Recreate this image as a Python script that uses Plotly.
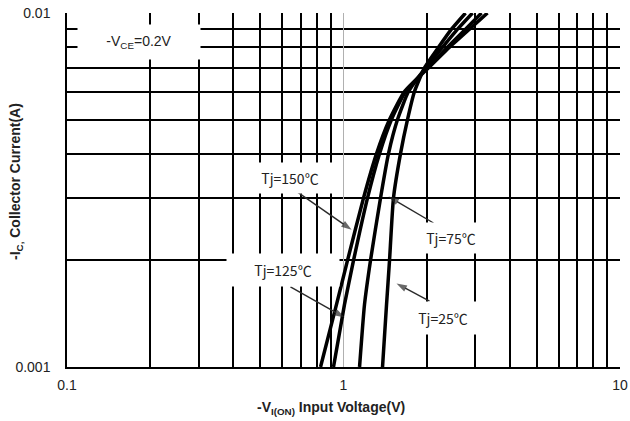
import math
import plotly.graph_objects as go

# Collector current levels (A) at which each curve is sampled
current_a = [0.001, 0.0015, 0.002, 0.003, 0.004, 0.005, 0.006, 0.007, 0.008, 0.009, 0.01]

# Input on-voltage (V) for each junction temperature
vin_25c = [1.384, 1.431, 1.467, 1.516, 1.607, 1.704, 1.806, 1.963, 2.206, 2.458, 2.762]
vin_75c = [1.143, 1.191, 1.252, 1.361, 1.454, 1.568, 1.718, 1.980, 2.280, 2.585, 2.928]
vin_125c = [0.920, 1.008, 1.087, 1.221, 1.349, 1.491, 1.676, 2.013, 2.377, 2.762, 3.156]
vin_150c = [0.826, 0.943, 1.034, 1.181, 1.316, 1.467, 1.662, 2.030, 2.417, 2.855, 3.317]

series_names = ["Tj=25℃", "Tj=75℃", "Tj=125℃", "Tj=150℃"]

x_major = [0.1, 1, 10]
x_major_text = ["0.1", "1", "10"]
x_minor = [0.2, 0.3, 0.4, 0.5, 0.6, 0.7, 0.8, 0.9, 2, 3, 4, 5, 6, 7, 8, 9]
y_major = [0.001, 0.01]
y_major_text = ["0.001", "0.01"]
y_minor = [0.002, 0.003, 0.004, 0.005, 0.006, 0.007, 0.008, 0.009]

arial = "Liberation Sans, Arial, sans-serif"

fig = go.Figure()
for name, vin in zip(series_names, [vin_25c, vin_75c, vin_125c, vin_150c]):
    fig.add_trace(go.Scatter(
        x=vin, y=current_a, mode="lines", name=name,
        line=dict(color="black", width=3.5, shape="spline", smoothing=0.5),
        showlegend=False,
    ))

label_font = dict(family="Noto Sans CJK SC, sans-serif", size=14, color="#222")

# Curve labels: (text, label centre, box size, arrow tail, arrow head)
labels = [
    ("Tj=150℃", (0.643, 0.00342), (92, 28), (0.682, 0.00312), (1.070, 0.00244)),
    ("Tj=125℃", (0.602, 0.00188), (110, 30), (0.643, 0.001683), (1.010, 0.00138)),
    ("Tj=75℃", (2.438, 0.002314), (76, 28), (2.116, 0.002551), (1.455, 0.00303)),
    ("Tj=25℃", (2.299, 0.001375), (76, 30), (2.047, 0.001536), (1.555, 0.00172)),
]
for text, (lx, ly), (bw, bh), (tx, ty), (hx, hy) in labels:
    fig.add_annotation(
        x=math.log10(lx), y=math.log10(ly), xref="x", yref="y", text=text,
        showarrow=False, font=label_font, bgcolor="white", width=bw, height=bh,
    )
    # pointer line from the label to its curve, with an arrowhead at the end
    fig.add_trace(go.Scatter(
        x=[tx, hx], y=[ty, hy], mode="lines+markers", showlegend=False,
        hoverinfo="skip",
        line=dict(color="#2a2a2a", width=1.4),
        marker=dict(symbol=["circle", "arrow"], size=[0, 11], color="#2a2a2a",
                    angleref="previous", line=dict(width=0)),
    ))

fig.add_annotation(
    x=math.log10(0.1814), y=math.log10(0.00828), xref="x", yref="y",
    text="-V<sub>CE</sub>=0.2V", showarrow=False,
    font=dict(family=arial, size=14, color="#222"),
    bgcolor="white", width=120, height=32,
)

# Axis titles
fig.add_annotation(
    x=(331 - 67) / 553, y=-(408 - 367) / 354, xref="paper", yref="paper",
    xanchor="center", yanchor="middle",
    text="<b>-V<sub>I(ON)</sub> Input Voltage(V)</b>", showarrow=False,
    font=dict(family=arial, size=14, color="#222"),
)
fig.add_annotation(
    x=-(67 - 16) / 553, y=(367 - 182) / 354, xref="paper", yref="paper",
    xanchor="center", yanchor="middle",
    text="<b>-I<sub>C,</sub> Collector Current(A)</b>", showarrow=False,
    textangle=-90, font=dict(family=arial, size=14, color="#222"),
)

fig.update_xaxes(
    type="log", range=[-1, 1], automargin=False,
    tickvals=x_major, ticktext=x_major_text, ticks="",
    showgrid=True, gridcolor="#b0b0b0", gridwidth=1,
    minor=dict(tickvals=x_minor, showgrid=True, gridcolor="black", gridwidth=1.5, ticks=""),
    showline=True, linecolor="black", linewidth=1.5,
    tickfont=dict(family=arial, size=14, color="#222"),
    ticklabelstandoff=4,
)
fig.update_yaxes(
    type="log", range=[-3, -2], automargin=False,
    tickvals=y_major, ticktext=y_major_text, ticks="",
    showgrid=True, gridcolor="#b0b0b0", gridwidth=1,
    minor=dict(tickvals=y_minor, showgrid=True, gridcolor="black", gridwidth=1.5, ticks=""),
    showline=True, linecolor="black", linewidth=1.5,
    tickfont=dict(family=arial, size=14, color="#222"),
    ticklabelstandoff=12,
)

fig.update_layout(
    width=630, height=421,
    margin=dict(l=67, r=10, t=13, b=54),
    plot_bgcolor="white", paper_bgcolor="white",
)

fig.write_html("out.html")
